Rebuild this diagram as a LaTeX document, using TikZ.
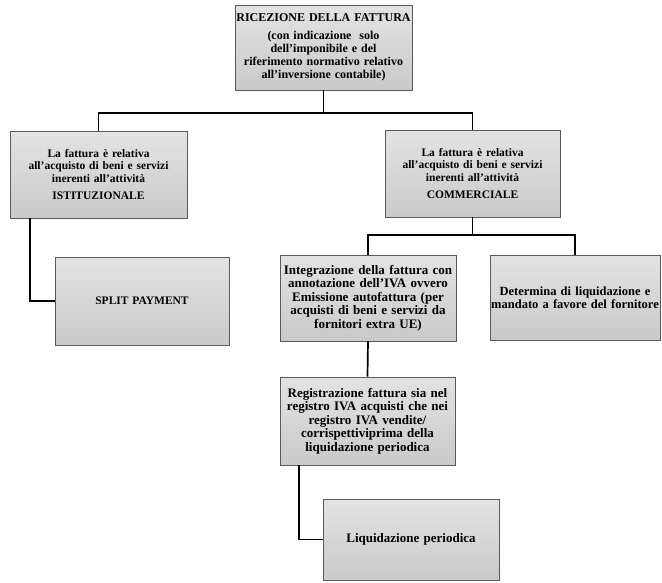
\documentclass[tikz,border=0pt]{standalone}
\usepackage{fontspec}
\setmainfont{Liberation Serif}
\usetikzlibrary{positioning}
\tikzset{
  box/.style={draw=black!65, line width=0.6pt, top color=gray!22, bottom color=gray!42,
    inner sep=0pt, align=center, font=\bfseries},
  conn/.style={draw=black, line width=1.7pt}
}
\begin{document}
\begin{tikzpicture}[x=1pt,y=-1pt]
\useasboundingbox[fill=white] (0,0) rectangle (662,582);

\node[box, minimum width=177pt, minimum height=85pt, text width=177pt,
  font=\bfseries\fontsize{12}{13}\selectfont] (top) at (323.5,47.5)
  {RICEZIONE DELLA FATTURA\\[5pt](con indicazione\ \ solo\\dell'imponibile e del\\riferimento normativo relativo\\all'inversione contabile)};

\node[box, minimum width=177pt, minimum height=87pt, text width=177pt,
  font=\bfseries\fontsize{11.5}{12.5}\selectfont] (ist) at (98.5,174.5)
  {La fattura è relativa\\all'acquisto di beni e servizi\\inerenti all'attività\\[5pt]ISTITUZIONALE};

\node[box, minimum width=175pt, minimum height=87pt, text width=175pt,
  font=\bfseries\fontsize{11.5}{12.5}\selectfont] (com) at (472.5,173.5)
  {La fattura è relativa\\all'acquisto di beni e servizi\\inerenti all'attività\\[5pt]COMMERCIALE};

\node[box, minimum width=174pt, minimum height=88pt, text width=174pt,
  font=\bfseries\fontsize{11.5}{12}\selectfont] (split) at (142,301)
  {SPLIT PAYMENT};

\node[box, minimum width=176pt, minimum height=86pt, text width=176pt,
  font=\bfseries\fontsize{13}{13.5}\selectfont] (integ) at (368,298)
  {Integrazione della fattura con\\annotazione dell'IVA ovvero\\Emissione autofattura (per\\acquisti di beni e servizi da\\fornitori extra UE)};

\node[box, minimum width=170pt, minimum height=85pt, text width=170pt,
  font=\bfseries\fontsize{12.5}{13}\selectfont] (det) at (575,297.5)
  {Determina di liquidazione e\\mandato a favore del fornitore};

\node[box, minimum width=175pt, minimum height=88pt, text width=175pt,
  font=\bfseries\fontsize{13}{13.5}\selectfont] (reg) at (367.5,421)
  {Registrazione fattura sia nel\\registro IVA acquisti che nei\\registro IVA vendite/\\corrispettiviprima della\\liquidazione periodica};

\node[box, minimum width=176pt, minimum height=81pt, text width=176pt,
  font=\bfseries\fontsize{13}{13.5}\selectfont] (liq) at (411,539.5)
  {Liquidazione periodica};

\draw[conn] (top.south) -- ++(0,23) -| (ist.north);
\draw[conn] (top.south) -- ++(0,23) -| (com.north);
\draw[conn] (ist.south west) ++(20,0) |- (split.west);
\draw[conn] (com.south) -- ++(0,18) -| (integ.north);
\draw[conn] (com.south) -- ++(0,18) -| (det.north);
\draw[conn] (integ.south) -- (reg.north);
\draw[conn] (reg.south west) ++(19,0) |- (liq.west);
\end{tikzpicture}
\end{document}
